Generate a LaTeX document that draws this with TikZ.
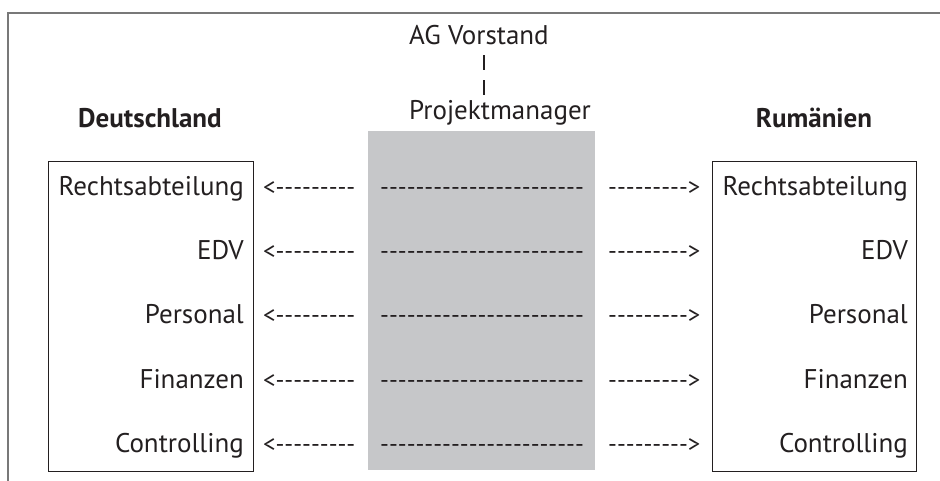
\documentclass[tikz,border=0pt]{standalone}
\usepackage{fontspec}
\setmainfont{PT Sans}
\newfontfamily\dashfont{PT Sans}[Ligatures=TeXOff]
\definecolor{panel}{RGB}{198,199,201}
\definecolor{ink}{RGB}{35,31,32}
\definecolor{framec}{RGB}{120,120,120}
\begin{document}
\begin{tikzpicture}[x=1pt,y=-1pt,
  lbl/.style={inner sep=0pt, text=ink, font=\fontsize{27}{32}\selectfont},
  head/.style={inner sep=0pt, text=ink, font=\fontsize{27}{32}\selectfont\bfseries, anchor=base},
  dept/.style={lbl, anchor=base east},
  dashtxt/.style={inner sep=0pt, text=ink, font=\fontsize{24.6}{30}\dashfont, anchor=base west},
  boxstyle/.style={draw=ink, line width=0.9pt},
  framestyle/.style={draw=framec, line width=1.4pt},
  vbar/.style={draw=ink, line width=2.4pt, dash pattern=on 15pt off 10pt},
]
\useasboundingbox (0,0) rectangle (940,480);
% outer frame (open to right and bottom)
\draw[framestyle] (8,485) -- (8,13) -- (945,13);
% central panel
\fill[panel] (368,131) rectangle (595,470);
% boxes
\draw[boxstyle] (48,161) rectangle (253,471);
\draw[boxstyle] (712,161) rectangle (916,471);
% headings
\node[head] (de) at (150,127) {Deutschland};
\node[head] (ro) at (814,127) {Rumänien};
\node[lbl, anchor=base west] (ag) at (409,44) {AG Vorstand};
\node[lbl, anchor=base west] (pm) at (409,119) {Projektmanager};
\coordinate (b1) at (484,55);
\coordinate (b2) at (484,95);
\draw[vbar] (b1) -- (b2);
% rows
\foreach \i/\t/\y in {1/Rechtsabteilung/195, 2/EDV/259, 3/Personal/323, 4/Finanzen/388, 5/Controlling/452}{
  \node[dept] (l\i) at (244,\y) {\t};
  \node[dept] (r\i) at (908,\y) {\t};
  \node[dashtxt] (la\i) at (263,\y) {<---------};
  \node[dashtxt] (m\i) at (380,\y) {-----------------------};
  \node[dashtxt] (ra\i) at (608,\y) {--------->};
}
\end{tikzpicture}
\end{document}
